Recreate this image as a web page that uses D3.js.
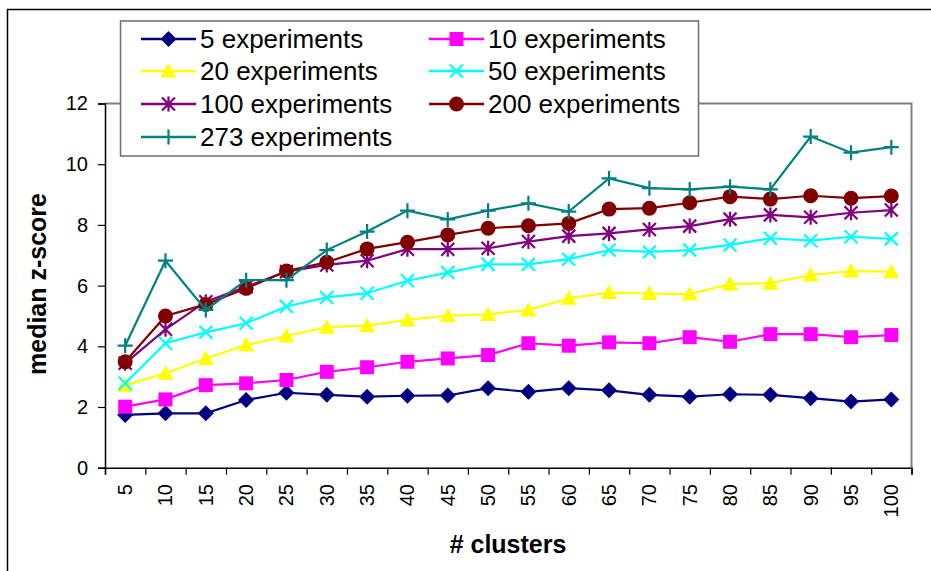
<!DOCTYPE html>
<html>
<head>
<meta charset="utf-8">
<script src="https://cdn.jsdelivr.net/npm/d3@7"></script>
<style>
  body { margin: 0; background: #fff; }
  text { font-family: "Liberation Sans", Arial, sans-serif; }
</style>
</head>
<body>
<svg id="chart" width="931" height="571"></svg>
<script>
// x categories (# clusters)
const clusters = [5, 10, 15, 20, 25, 30, 35, 40, 45, 50, 55, 60, 65, 70, 75, 80, 85, 90, 95, 100];
const yTicks = [0, 2, 4, 6, 8, 10, 12];

// median z-score per series
const exp5   = [1.74, 1.79, 1.79, 2.23, 2.47, 2.40, 2.34, 2.37, 2.38, 2.62, 2.50, 2.62, 2.55, 2.40, 2.34, 2.42, 2.40, 2.29, 2.18, 2.25];
const exp10  = [2.01, 2.25, 2.72, 2.78, 2.89, 3.16, 3.31, 3.49, 3.60, 3.71, 4.10, 4.02, 4.13, 4.10, 4.30, 4.15, 4.40, 4.40, 4.30, 4.37];
const exp20  = [2.72, 3.11, 3.60, 4.04, 4.34, 4.63, 4.68, 4.87, 5.01, 5.05, 5.20, 5.58, 5.77, 5.74, 5.72, 6.05, 6.08, 6.35, 6.48, 6.46];
const exp50  = [2.78, 4.10, 4.46, 4.76, 5.31, 5.61, 5.75, 6.16, 6.43, 6.70, 6.70, 6.87, 7.17, 7.11, 7.17, 7.34, 7.56, 7.48, 7.61, 7.54];
const exp100 = [3.44, 4.56, 5.47, 5.96, 6.46, 6.68, 6.82, 7.20, 7.20, 7.23, 7.45, 7.63, 7.72, 7.85, 7.96, 8.19, 8.33, 8.25, 8.40, 8.49];
const exp200 = [3.49, 5.00, 5.38, 5.91, 6.48, 6.77, 7.21, 7.43, 7.67, 7.89, 7.97, 8.05, 8.52, 8.55, 8.73, 8.93, 8.85, 8.96, 8.88, 8.95];
const exp273 = [4.02, 6.82, 5.20, 6.18, 6.18, 7.17, 7.78, 8.47, 8.18, 8.47, 8.71, 8.44, 9.53, 9.21, 9.17, 9.26, 9.17, 10.91, 10.38, 10.56];

const seriesNames = ['5 experiments', '10 experiments', '20 experiments', '50 experiments',
                     '100 experiments', '200 experiments', '273 experiments'];
const seriesValues = [exp5, exp10, exp20, exp50, exp100, exp200, exp273];
const seriesColors = ['#000080', '#ff00ff', '#ffff00', '#00ffff', '#800080', '#800000', '#008080'];
const seriesMarkers = ['diamond', 'square', 'triangle', 'x', 'asterisk', 'circle', 'plus'];

const svg = d3.select('#chart');
const plot = { left: 105, right: 911.5, top: 103.5, bottom: 467.7 };

const x = d3.scaleBand().domain(clusters).range([plot.left, plot.right]);
const xEdge = d3.scaleLinear().domain([0, clusters.length]).range([plot.left, plot.right]);
const y = d3.scaleLinear().domain([0, 12]).range([plot.bottom, plot.top]);

// chart frame
svg.append('rect')
  .attr('x', 7.5).attr('y', 9.5).attr('width', 940).attr('height', 580)
  .attr('fill', '#fff').attr('stroke', '#000').attr('stroke-width', 1.5);

// plot area border (top / right grey)
svg.append('path')
  .attr('d', `M${plot.left},${plot.top}H${plot.right}V${plot.bottom}`)
  .attr('fill', 'none').attr('stroke', '#808080').attr('stroke-width', 2);

// y axis
const yAxis = svg.append('g')
  .attr('transform', `translate(${plot.left},0)`)
  .call(d3.axisLeft(y).tickValues(yTicks).tickSize(7).tickPadding(10).tickFormat(d3.format('d')));
yAxis.select('.domain').attr('stroke', '#000').attr('stroke-width', 1.5);
yAxis.selectAll('.tick line').attr('stroke', '#000').attr('stroke-width', 1.2);
yAxis.selectAll('.tick text')
  .attr('font-size', 20).attr('fill', '#000')
  .style('font-family', '"Liberation Sans", Arial, sans-serif');

// x axis: ticks between categories
const xAxis = svg.append('g')
  .attr('transform', `translate(0,${plot.bottom})`)
  .call(d3.axisBottom(xEdge).tickValues(d3.range(clusters.length + 1))
    .tickSize(7).tickFormat(''));
xAxis.select('.domain').attr('stroke', '#000').attr('stroke-width', 1.5);
xAxis.selectAll('.tick line').attr('stroke', '#000').attr('stroke-width', 1.2);

svg.append('g').selectAll('text')
  .data(clusters)
  .join('text')
  .attr('transform', d => `translate(${x(d) + x.bandwidth() / 2},484) rotate(-90)`)
  .attr('text-anchor', 'end')
  .attr('dy', '0.35em')
  .attr('font-size', 20)
  .text(d => d);

// axis titles
svg.append('text')
  .attr('transform', 'translate(46,284) rotate(-90)')
  .attr('text-anchor', 'middle')
  .attr('font-size', 25).attr('font-weight', 'bold')
  .text('median z-score');

svg.append('text')
  .attr('x', 508).attr('y', 553)
  .attr('text-anchor', 'middle')
  .attr('font-size', 25).attr('font-weight', 'bold')
  .text('# clusters');

// marker drawing
function drawMarker(g, type, color) {
  if (type === 'diamond') {
    g.append('path').attr('d', 'M0,-8L8,0L0,8L-8,0Z').attr('fill', color);
  } else if (type === 'square') {
    g.append('rect').attr('x', -7).attr('y', -7).attr('width', 14).attr('height', 14).attr('fill', color);
  } else if (type === 'triangle') {
    g.append('path').attr('d', 'M0,-8L8,6.5L-8,6.5Z').attr('fill', color);
  } else if (type === 'circle') {
    g.append('circle').attr('r', 7.5).attr('fill', color);
  } else {
    let d = '';
    if (type === 'x' || type === 'asterisk') d += 'M-6.5,-6.5L6.5,6.5M-6.5,6.5L6.5,-6.5';
    if (type === 'asterisk') d += 'M0,-7.5V7.5';
    if (type === 'plus') d += 'M-7.5,0H7.5M0,-7.5V7.5';
    g.append('path').attr('d', d).attr('fill', 'none').attr('stroke', color).attr('stroke-width', 2.2);
  }
}

const line = d3.line()
  .x((d, i) => x(clusters[i]) + x.bandwidth() / 2)
  .y(d => y(d));

const seriesG = svg.append('g');
seriesValues.forEach((vals, si) => {
  const g = seriesG.append('g');
  g.append('path')
    .attr('d', line(vals))
    .attr('fill', 'none')
    .attr('stroke', seriesColors[si])
    .attr('stroke-width', 2.2);
  vals.forEach((v, i) => {
    const m = g.append('g')
      .attr('transform', `translate(${x(clusters[i]) + x.bandwidth() / 2},${y(v)})`);
    drawMarker(m, seriesMarkers[si], seriesColors[si]);
  });
});

// legend
const legend = svg.append('g');
legend.append('rect')
  .attr('x', 120.5).attr('y', 21).attr('width', 578).attr('height', 135)
  .attr('fill', '#fff').attr('stroke', '#6e6e6e').attr('stroke-width', 1.5);

const colX = [141, 429];
const rowY = [39, 71, 104, 137];
seriesNames.forEach((name, i) => {
  const cx = colX[i % 2];
  const cy = rowY[Math.floor(i / 2)];
  const item = legend.append('g').attr('transform', `translate(${cx},${cy})`);
  item.append('line')
    .attr('x1', 0).attr('x2', 55).attr('y1', 0).attr('y2', 0)
    .attr('stroke', seriesColors[i]).attr('stroke-width', 2.5);
  drawMarker(item.append('g').attr('transform', 'translate(27.5,0)'), seriesMarkers[i], seriesColors[i]);
  item.append('text')
    .attr('x', 59).attr('y', 0).attr('dy', '0.36em')
    .attr('font-size', 26)
    .text(name);
});
</script>
</body>
</html>
